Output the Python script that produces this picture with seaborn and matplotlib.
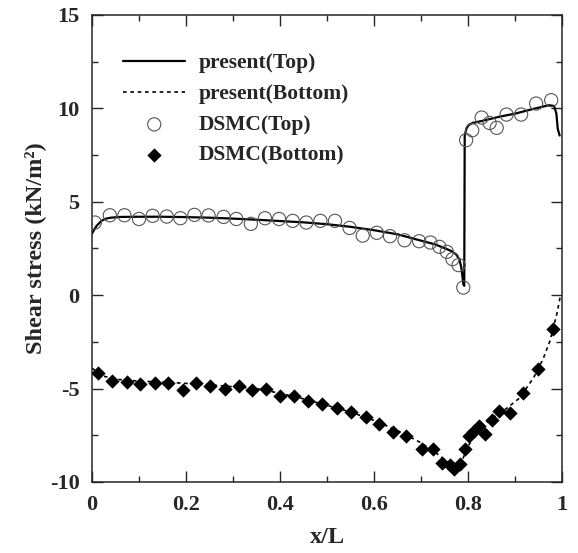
import matplotlib
matplotlib.use("Agg")
import matplotlib.pyplot as plt
import pandas as pd
import seaborn as sns
from matplotlib.ticker import MultipleLocator, FixedLocator, FixedFormatter

# Present model, wall shear stress along the top wall
top_x = [0.000, 0.005, 0.010, 0.020, 0.030, 0.040, 0.060, 0.100, 0.150, 0.200,
         0.250, 0.300, 0.350, 0.400, 0.450, 0.500, 0.550, 0.600, 0.650, 0.700,
         0.730, 0.750, 0.765, 0.775, 0.782, 0.786, 0.790, 0.792, 0.793, 0.797,
         0.802, 0.810, 0.830, 0.866, 0.902, 0.937, 0.972, 0.983, 0.988, 0.991,
         0.995]
top_tau = [3.30, 3.52, 3.72, 3.98, 4.10, 4.15, 4.19, 4.20, 4.20, 4.18,
           4.15, 4.10, 4.04, 3.97, 3.90, 3.80, 3.66, 3.48, 3.26, 2.92,
           2.72, 2.52, 2.36, 2.18, 1.90, 1.45, 0.60, 0.50, 8.56, 8.95,
           9.12, 9.22, 9.33, 9.55, 9.73, 9.96, 10.17, 10.13, 9.73, 8.90,
           8.55]

# Present model, wall shear stress along the bottom wall
bot_x = [0.000, 0.020, 0.050, 0.100, 0.150, 0.200, 0.250, 0.300, 0.350, 0.400,
         0.450, 0.500, 0.550, 0.600, 0.650, 0.700, 0.730, 0.750, 0.765, 0.775,
         0.785, 0.795, 0.810, 0.830, 0.850, 0.880, 0.910, 0.940, 0.960, 0.975,
         0.985, 0.990, 0.996]
bot_tau = [-3.90, -4.30, -4.50, -4.60, -4.65, -4.72, -4.80, -4.90, -5.00, -5.25,
           -5.55, -5.90, -6.25, -6.70, -7.25, -7.90, -8.40, -8.80, -9.10, -9.20,
           -9.00, -8.40, -7.60, -7.00, -6.60, -6.10, -5.50, -4.40, -3.40, -2.40,
           -1.40, -0.90, -0.10]

# DSMC results, top wall
dsmc_top_x = [0.006, 0.038, 0.069, 0.100, 0.129, 0.159, 0.188, 0.218, 0.248, 0.280,
              0.307, 0.338, 0.368, 0.398, 0.427, 0.456, 0.486, 0.517, 0.548, 0.576,
              0.606, 0.634, 0.665, 0.696, 0.720, 0.739, 0.755, 0.767, 0.780, 0.790,
              0.796, 0.809, 0.829, 0.846, 0.861, 0.882, 0.913, 0.945, 0.977]
dsmc_top_tau = [3.89, 4.28, 4.28, 4.08, 4.25, 4.21, 4.12, 4.30, 4.27, 4.19,
                4.08, 3.82, 4.12, 4.08, 3.98, 3.89, 3.98, 3.98, 3.60, 3.19,
                3.34, 3.16, 2.94, 2.89, 2.82, 2.59, 2.32, 1.93, 1.61, 0.41,
                8.30, 8.83, 9.51, 9.22, 8.96, 9.67, 9.67, 10.26, 10.44]

# DSMC results, bottom wall
dsmc_bot_x = [0.013, 0.043, 0.074, 0.103, 0.134, 0.162, 0.193, 0.221, 0.252, 0.282,
              0.312, 0.341, 0.371, 0.401, 0.429, 0.459, 0.489, 0.522, 0.551, 0.582,
              0.611, 0.641, 0.669, 0.702, 0.725, 0.745, 0.761, 0.771, 0.783, 0.793,
              0.802, 0.812, 0.823, 0.836, 0.851, 0.867, 0.889, 0.918, 0.949, 0.981]
dsmc_bot_tau = [-4.16, -4.59, -4.64, -4.73, -4.69, -4.69, -5.05, -4.69, -4.85, -5.00,
                -4.85, -5.09, -5.00, -5.41, -5.39, -5.66, -5.85, -6.03, -6.25, -6.51,
                -6.87, -7.35, -7.55, -8.26, -8.21, -8.98, -9.10, -9.28, -9.01, -8.26,
                -7.53, -7.26, -6.98, -7.44, -6.66, -6.19, -6.28, -5.26, -3.96, -1.82]

series_labels = ["present(Top)", "present(Bottom)", "DSMC(Top)", "DSMC(Bottom)"]
x_ticks = [0, 0.2, 0.4, 0.6, 0.8, 1]
x_tick_labels = ["0", "0.2", "0.4", "0.6", "0.8", "1"]
y_ticks = [-10, -5, 0, 5, 10, 15]
x_label = "x/L"
y_label = "Shear stress (kN/m²)"

sns.set_theme(style="ticks")
plt.rcParams.update({
    "font.family": ["Liberation Serif", "DejaVu Serif"],
    "font.weight": "bold",
    "axes.labelweight": "bold",
    "axes.unicode_minus": False,
    "axes.linewidth": 1.1,
    "xtick.direction": "in",
    "ytick.direction": "in",
    "xtick.top": True,
    "ytick.right": True,
})

top_line = pd.DataFrame({"x": top_x, "tau": top_tau})
bot_line = pd.DataFrame({"x": bot_x, "tau": bot_tau})
top_pts = pd.DataFrame({"x": dsmc_top_x, "tau": dsmc_top_tau})
bot_pts = pd.DataFrame({"x": dsmc_bot_x, "tau": dsmc_bot_tau})

fig = plt.figure(figsize=(5.78, 5.53), dpi=100)
ax = fig.add_axes([92 / 578, 1 - 482 / 553, 470 / 578, 467 / 553])

sns.lineplot(data=top_line, x="x", y="tau", ax=ax, color="black", lw=1.6,
             sort=False, estimator=None, label=series_labels[0])
sns.lineplot(data=bot_line, x="x", y="tau", ax=ax, color="black", lw=1.2,
             linestyle=(0, (2.2, 2.2)), sort=False, estimator=None,
             label=series_labels[1])
sns.scatterplot(data=top_pts, x="x", y="tau", ax=ax, marker="o", s=90,
                facecolor="none", edgecolor="#555555", linewidth=0.8,
                label=series_labels[2], zorder=3)
sns.scatterplot(data=bot_pts, x="x", y="tau", ax=ax, marker="D", s=48,
                color="black", edgecolor="black", linewidth=0.3,
                label=series_labels[3], zorder=3)

ax.set_xlim(0, 1)
ax.set_ylim(-10, 15)
ax.xaxis.set_major_locator(FixedLocator(x_ticks))
ax.xaxis.set_major_formatter(FixedFormatter(x_tick_labels))
ax.xaxis.set_minor_locator(MultipleLocator(0.1))
ax.yaxis.set_major_locator(FixedLocator(y_ticks))
ax.yaxis.set_minor_locator(MultipleLocator(2.5))
ax.tick_params(which="major", length=8, width=1.0, pad=9, labelsize=16)
ax.tick_params(which="minor", length=4, width=1.0)
for lab in ax.get_xticklabels() + ax.get_yticklabels():
    lab.set_fontweight("bold")

ax.set_xlabel(x_label, fontsize=17.5, fontweight="bold", labelpad=9)
ax.set_ylabel(y_label, fontsize=17.5, fontweight="bold", labelpad=3)

ax.legend(loc="upper left", bbox_to_anchor=(0.066, 0.918), frameon=False,
          handlelength=2.9, handletextpad=0.6,
          labelspacing=0.5, borderaxespad=0, borderpad=0,
          prop={"weight": "bold", "size": 15.5})

fig.savefig("out.png", dpi=100)
